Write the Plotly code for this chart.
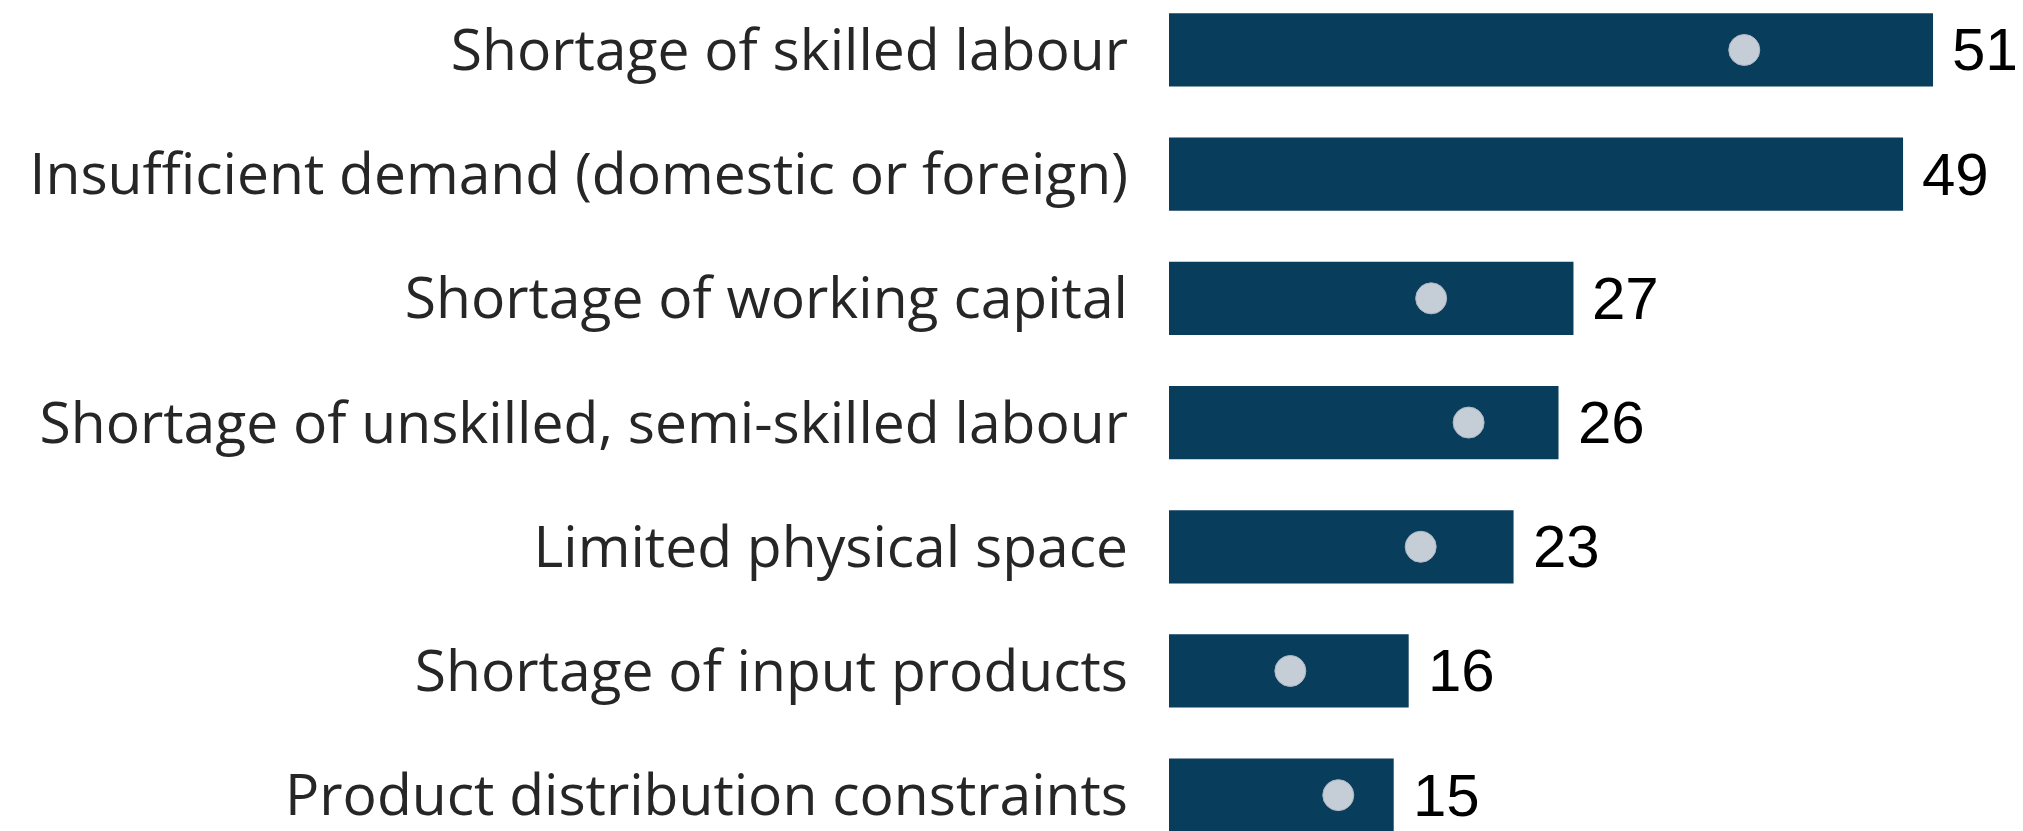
import plotly.graph_objects as go

# Data (top to bottom as shown in the chart)
categories = [
    "Shortage of skilled labour",
    "Insufficient demand (domestic or foreign)",
    "Shortage of working capital",
    "Shortage of unskilled, semi-skilled labour",
    "Limited physical space",
    "Shortage of input products",
    "Product distribution constraints",
]
bar_values = [51, 49, 27, 26, 23, 16, 15]
dot_values = [38.4, None, 17.5, 20.0, 16.8, 8.1, 11.3]

BAR_COLOR = "#093D5C"
DOT_COLOR = "#C5CDD7"

# plotly draws categories bottom-up, so reverse
cats = categories[::-1]
bars = bar_values[::-1]
dots = dot_values[::-1]

fig = go.Figure()

fig.add_trace(go.Bar(
    x=bars,
    y=cats,
    orientation="h",
    marker=dict(color=BAR_COLOR, line=dict(width=0)),
    hoverinfo="skip",
))

dot_y = [c for c, d in zip(cats, dots) if d is not None]
dot_x = [d for d in dots if d is not None]
fig.add_trace(go.Scatter(
    x=dot_x,
    y=dot_y,
    mode="markers",
    marker=dict(size=31, color=DOT_COLOR, line=dict(width=1, color="#AEB8C4")),
    hoverinfo="skip",
    cliponaxis=False,
))

# value labels to the right of each bar
for c, v in zip(cats, bars):
    fig.add_annotation(
        x=v, y=c,
        text=str(v),
        showarrow=False,
        xanchor="left", yanchor="middle",
        xshift=17,
        font=dict(family="Liberation Sans Narrow, Liberation Sans, sans-serif", size=60, color="#000000"),
    )

# page body adds ~8px offset, so margins/ranges are compensated
fig.update_layout(
    width=2023,
    height=831,
    showlegend=False,
    bargap=0.41,
    plot_bgcolor="white",
    paper_bgcolor="white",
    margin=dict(l=1161, r=0, t=0, b=0),
    xaxis=dict(
        range=[0, 57.54],
        showgrid=False,
        zeroline=False,
        showticklabels=False,
        showline=False,
        fixedrange=True,
    ),
    yaxis=dict(
        type="category",
        categoryorder="array",
        categoryarray=cats,
        range=[-0.353, 6.338],
        showgrid=False,
        zeroline=False,
        showline=False,
        ticks="",
        ticklabelstandoff=40,
        tickfont=dict(family="Open Sans, sans-serif", size=57, color="#262626"),
        fixedrange=True,
    ),
)

fig.write_html("out.html")
